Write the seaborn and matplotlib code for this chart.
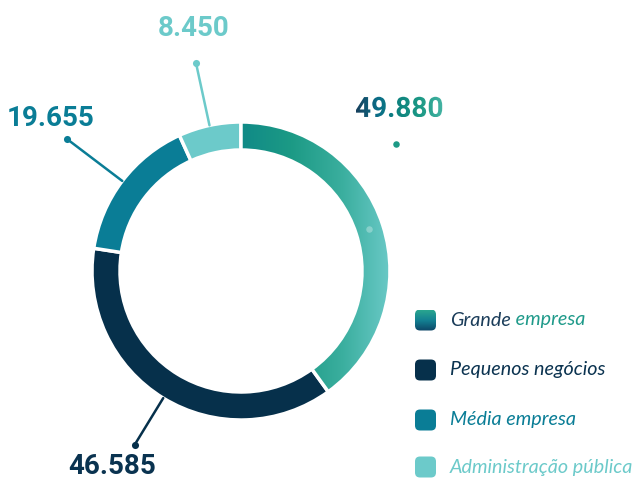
import numpy as np
import seaborn as sns
import matplotlib.pyplot as plt
from matplotlib.colors import LinearSegmentedColormap
from matplotlib.patches import FancyBboxPatch, PathPatch
from matplotlib.textpath import TextPath
from matplotlib.font_manager import FontProperties
from matplotlib.transforms import Affine2D

# --- data ---
categories = ["Grande empresa", "Pequenos negócios", "Média empresa", "Administração pública"]
values = [49880, 46585, 19655, 8450]
colors = ["#1d9a86", "#06304b", "#0a7d96", "#6ccaca"]

sns.set_theme(style="white")
plt.rcParams['font.family'] = ['Lato', 'DejaVu Sans']

W, H = 635, 479
fig = plt.figure(figsize=(W / 100, H / 100), dpi=100)
ax = fig.add_axes([0, 0, 1, 1])

cx, cy, R, ring = 241, 208, 149, 28

wedges, _ = ax.pie(values, colors=colors, startangle=90, counterclock=False,
                   center=(cx, cy), radius=R,
                   wedgeprops=dict(width=ring, edgecolor="white", linewidth=2.5))
ax.set_xlim(0, W)
ax.set_ylim(0, H)
ax.set_aspect("equal")
ax.axis("off")

# gradient fill for the first wedge (Grande empresa)
grad_cmap = LinearSegmentedColormap.from_list(
    "grande", ["#108a87", "#1c9a85", "#3aae9e", "#6ccac8"])
gx = np.linspace(0, 1, 256).reshape(1, -1)
wedges[0].set_facecolor("none")
wedges[0].set_zorder(2)
img = ax.imshow(gx, cmap=grad_cmap, aspect="auto", extent=(cx, cx + R + 2, cy - R, cy + R + 2),
                zorder=1, interpolation="bicubic")
img.set_clip_path(wedges[0])

# --- value labels with leader lines ---
num_font = FontProperties(family="Roboto", weight="bold")
# text centre (x, y) and leader end radius (layout)
label_pos = {
    0: dict(text=(399, 372), dot=(396, 335)),
    1: dict(text=(112, 12), r=204),
    2: dict(text=(51, 361), r=218),
    3: dict(text=(194, 451), r=213),
}
txt_colors = ["#1b3d5a", "#0a3350", "#0a7d96", "#6ccaca"]

for i, w in enumerate(wedges):
    mid = np.deg2rad((w.theta1 + w.theta2) / 2)
    lab = f"{values[i]:,}".replace(",", ".")
    pos = label_pos[i]
    if i == 0:
        # leader is white on white: only the dots show
        sx, sy = cx + (R - ring / 2) * np.cos(mid), cy + (R - ring / 2) * np.sin(mid)
        ex, ey = pos["dot"]
        ax.scatter([sx], [sy], s=22, color="white", alpha=0.3, zorder=4, linewidths=0)
        ax.scatter([ex], [ey], s=22, color="#1d9a86", zorder=4, linewidths=0)
        # gradient-coloured number
        tp = TextPath((0, 0), lab, size=28, prop=num_font)
        bb = tp.get_extents()
        tx, ty = pos["text"]
        tr = Affine2D().translate(tx - (bb.x0 + bb.width / 2), ty - (bb.y0 + bb.height / 2))
        tpath = tr.transform_path(tp)
        patch = PathPatch(tpath, facecolor="none", edgecolor="none")
        ax.add_patch(patch)
        tb = tpath.get_extents()
        tcmap = LinearSegmentedColormap.from_list(
            "num", ["#17405d", "#0b6e88", "#0f857f", "#1d9a86", "#45b3a3"])
        im2 = ax.imshow(gx, cmap=tcmap, aspect="auto",
                        extent=(tb.x0, tb.x1, tb.y0, tb.y1), zorder=5)
        im2.set_clip_path(patch)
        continue
    sx, sy = cx + R * np.cos(mid), cy + R * np.sin(mid)
    ex, ey = cx + pos["r"] * np.cos(mid), cy + pos["r"] * np.sin(mid)
    ax.plot([sx, ex], [sy, ey], color=colors[i], lw=1.8, zorder=3, solid_capstyle="round")
    ax.scatter([ex], [ey], s=26, color=colors[i], zorder=4, linewidths=0)
    ax.text(pos["text"][0], pos["text"][1], lab, ha="center", va="center",
            fontproperties=num_font, fontsize=20, color=txt_colors[i])

# --- legend ---
leg_y = [159, 109, 59, 12]
leg_x, sq = 415, 21
gy = np.linspace(0, 1, 256).reshape(-1, 1)
sq_cmap = LinearSegmentedColormap.from_list("sq", ["#2aa68f", "#138092", "#0d4566"])
for i, cat in enumerate(categories):
    y = leg_y[i]
    box = FancyBboxPatch((leg_x, y - sq / 2), sq, sq, boxstyle="round,pad=0,rounding_size=5",
                         facecolor=colors[i], edgecolor="none", zorder=3)
    ax.add_patch(box)
    if i == 0:
        box.set_facecolor("none")
        im3 = ax.imshow(gy, cmap=sq_cmap, aspect="auto",
                        extent=(leg_x, leg_x + sq, y - sq / 2, y + sq / 2), zorder=2,
                        origin="upper")
        im3.set_clip_path(box)
        first, rest = cat.split(" ", 1)
        t1 = ax.text(leg_x + 35, y, first, ha="left", va="center", fontsize=14.2,
                     style="italic", color="#1b3d5a")
        ax.annotate(" " + rest, xy=(1, 0), xycoords=t1, ha="left", va="bottom",
                    fontsize=14.2, style="italic", color="#1f9a8a")
    else:
        ax.text(leg_x + 35, y, cat, ha="left", va="center", fontsize=14.2,
                style="italic", color=colors[i] if i != 1 else "#0b3350")

fig.savefig("out.png", dpi=100)
